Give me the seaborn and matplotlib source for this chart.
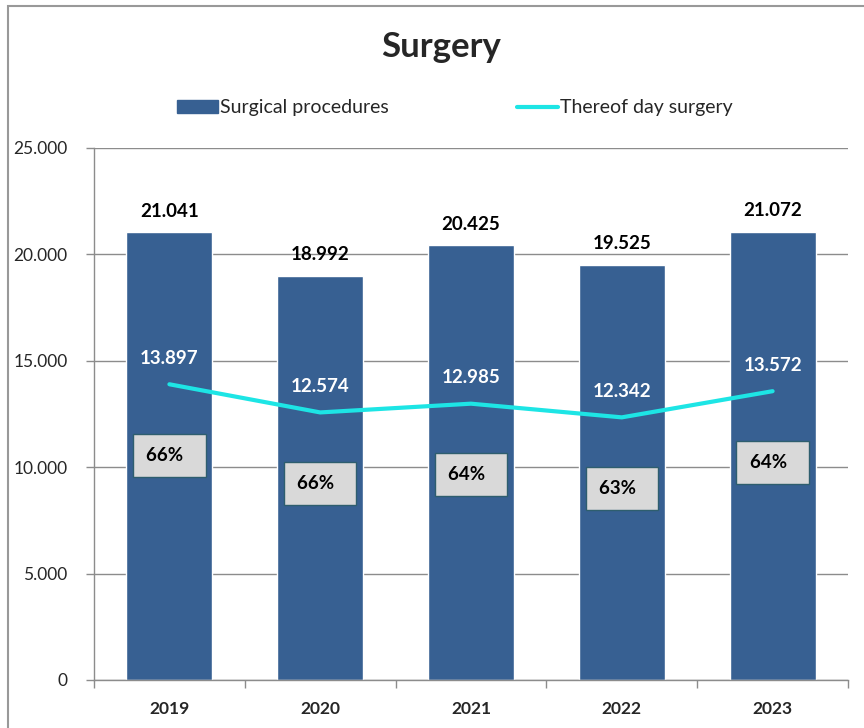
import matplotlib
matplotlib.use("Agg")
import matplotlib.pyplot as plt
import matplotlib.patches as mpatches
from matplotlib.lines import Line2D
from matplotlib.ticker import FuncFormatter, FixedLocator
import seaborn as sns
import numpy as np
import pandas as pd

# Data
years = ["2019", "2020", "2021", "2022", "2023"]
procedures = [21041, 18992, 20425, 19525, 21072]
day_surgery = [13897, 12574, 12985, 12342, 13572]
day_share = ["66%", "66%", "64%", "63%", "64%"]

bar_color = "#376092"
line_color = "#1DE5E5"
grid_color = "#8C8C8C"

sns.set_theme(style="white")
plt.rcParams["font.family"] = ["Lato", "DejaVu Sans"]

df = pd.DataFrame({"Year": years, "Procedures": procedures, "Day": day_surgery})

fig = plt.figure(figsize=(8.64, 7.28), dpi=100)
ax = fig.add_axes([94 / 864, 48 / 728, 754 / 864, 532 / 728])

sns.barplot(data=df, x="Year", y="Procedures", color=bar_color, width=0.57,
            saturation=1, ax=ax, zorder=2)
pos = np.arange(len(years))
sns.lineplot(x=pos, y=df["Day"], color=line_color, linewidth=3, ax=ax, zorder=3)

ax.set_xlim(-0.5, len(years) - 0.5)
ax.set_ylim(0, 25000)
ax.set_yticks(range(0, 25001, 5000))
ax.yaxis.set_major_formatter(FuncFormatter(lambda v, p: f"{int(v):,}".replace(",", ".")))
ax.yaxis.grid(True, color=grid_color, linewidth=1)
ax.set_axisbelow(True)
ax.set_xlabel("")
ax.set_ylabel("")

# x ticks between categories, labels at category centres
ax.set_xticks(pos)
ax.set_xticklabels(years, fontweight="bold", fontsize=12.5)
ax.xaxis.set_minor_locator(FixedLocator(np.arange(-0.5, len(years), 1.0)))
ax.tick_params(axis="x", which="major", length=0, pad=15)
ax.tick_params(axis="x", which="minor", length=6, color=grid_color, width=1, bottom=True)
ax.tick_params(axis="y", length=6, color=grid_color, width=1, left=True, labelsize=12.5, pad=13)

for s in ["top", "right"]:
    ax.spines[s].set_visible(False)
for s in ["left", "bottom"]:
    ax.spines[s].set_color(grid_color)
    ax.spines[s].set_linewidth(1)

# value labels
for i in range(len(years)):
    ax.annotate(f"{procedures[i]:,}".replace(",", "."), (i, procedures[i]),
                xytext=(0, 21), textcoords="offset pixels", ha="center", va="center",
                fontsize=13.5, fontweight="bold", color="black")
    ax.annotate(f"{day_surgery[i]:,}".replace(",", "."), (i, day_surgery[i]),
                xytext=(0, 26), textcoords="offset pixels", ha="center", va="center",
                fontsize=13.5, fontweight="bold", color="white", zorder=4)
    ax.annotate(day_share[i] + "  ", (i, day_surgery[i]),
                xytext=(0, -71), textcoords="offset pixels", ha="center", va="center",
                fontsize=13.5, fontweight="bold", color="black", zorder=5,
                bbox=dict(boxstyle="square,pad=0.7", facecolor="#D9D9D9",
                          edgecolor="#2E5E6E", linewidth=1))

fig.text(0.51, 1 - 47 / 728, "Surgery", ha="center", va="center",
         fontsize=25, fontweight="bold")

handles = [mpatches.Patch(color=bar_color, label="Surgical procedures"),
           Line2D([0], [0], color=line_color, linewidth=3, label="Thereof day surgery")]
fig.legend(handles=handles, loc="center", bbox_to_anchor=(455 / 864, 1 - 108 / 728),
           ncol=2, frameon=False, fontsize=14, handlelength=2.1, handleheight=0.6,
           handletextpad=0.1, columnspacing=6.6)

# outer chart border
fig.patches.append(mpatches.Rectangle((8 / 864, -0.1), 1.0, 1 - 6 / 728 + 0.1,
                                      transform=fig.transFigure, fill=False,
                                      edgecolor="#999999", linewidth=1.5))

fig.savefig("out.png", dpi=100)
